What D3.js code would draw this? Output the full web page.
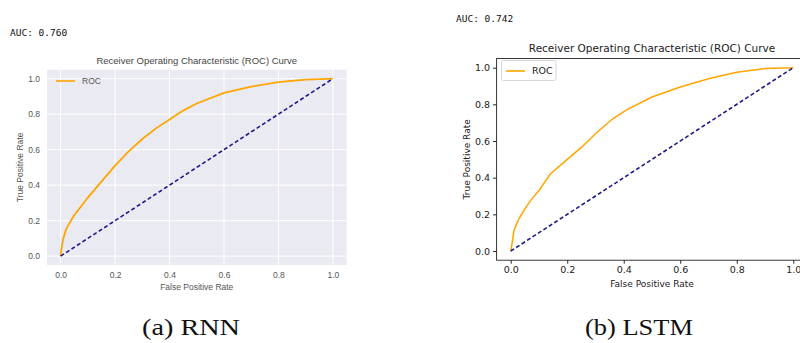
<!DOCTYPE html>
<html>
<head>
<meta charset="utf-8">
<script src="https://cdn.jsdelivr.net/npm/d3@7"></script>
<style>
  body { margin: 0; background: #fff; }
  svg { display: block; }
</style>
</head>
<body>
<svg id="chart" width="800" height="343"></svg>
<script>
// ROC curve of the RNN model
const rnnFpr = [0, 0.005, 0.01, 0.02, 0.03, 0.05, 0.075, 0.1, 0.15, 0.2, 0.25, 0.3, 0.35, 0.4, 0.45, 0.5, 0.6, 0.7, 0.8, 0.9, 1.0];
const rnnTpr = [0, 0.06, 0.1, 0.15, 0.18, 0.23, 0.28, 0.33, 0.42, 0.51, 0.59, 0.66, 0.72, 0.77, 0.82, 0.86, 0.92, 0.955, 0.98, 0.995, 1.0];

// ROC curve of the LSTM model
const lstmFpr = [0, 0.004, 0.012, 0.027, 0.05, 0.07, 0.1, 0.14, 0.2, 0.25, 0.3, 0.36, 0.41, 0.5, 0.6, 0.7, 0.8, 0.9, 1.0];
const lstmTpr = [0, 0.035, 0.115, 0.17, 0.23, 0.275, 0.33, 0.42, 0.5, 0.565, 0.64, 0.72, 0.77, 0.84, 0.895, 0.94, 0.975, 0.995, 1.0];

const diagonal = [0, 1];
const ticks = [0, 0.2, 0.4, 0.6, 0.8, 1.0];
const aucLabels = ["AUC: 0.760", "AUC: 0.742"];
const captions = ["(a) RNN", "(b) LSTM"];
const chartTitle = "Receiver Operating Characteristic (ROC) Curve";

const svg = d3.select("#chart");

const panels = [
  { fpr: rnnFpr, tpr: rnnTpr, auc: aucLabels[0], caption: captions[0],
    left: 47, right: 346.5, top: 69.8, bottom: 265, style: "seaborn",
    aucX: 10, aucY: 36, capX: 191, capY: 335, capW: 98 },
  { fpr: lstmFpr, tpr: lstmTpr, auc: aucLabels[1], caption: captions[1],
    left: 496.6, right: 807.4, top: 58.5, bottom: 260.2, style: "classic",
    aucX: 456, aucY: 22, capX: 639, capY: 335, capW: 108 }
];

panels.forEach(p => {
  const g = svg.append("g");
  const x = d3.scaleLinear().domain([-0.05, 1.05]).range([p.left, p.right]);
  const y = d3.scaleLinear().domain([-0.05, 1.05]).range([p.bottom, p.top]);
  const seaborn = p.style === "seaborn";
  const textColor = seaborn ? "#555" : "#222";
  const font = seaborn ? "Liberation Sans, Arial, sans-serif" : "DejaVu Sans, sans-serif";

  // AUC printout
  g.append("text")
    .attr("x", p.aucX).attr("y", p.aucY)
    .text(p.auc)
    .style("font-family", "DejaVu Sans Mono, monospace")
    .style("font-size", "9.5px")
    .style("fill", "#111");

  // background
  g.append("rect")
    .attr("x", p.left).attr("y", p.top)
    .attr("width", p.right - p.left).attr("height", p.bottom - p.top)
    .style("fill", seaborn ? "#eaeaf2" : "#fff");

  if (seaborn) {
    g.selectAll(".vgrid").data(ticks).enter().append("line")
      .attr("x1", d => x(d)).attr("x2", d => x(d))
      .attr("y1", p.top).attr("y2", p.bottom)
      .style("stroke", "#fff").style("stroke-width", 1);
    g.selectAll(".hgrid").data(ticks).enter().append("line")
      .attr("y1", d => y(d)).attr("y2", d => y(d))
      .attr("x1", p.left).attr("x2", p.right)
      .style("stroke", "#fff").style("stroke-width", 1);
  }

  // axes
  const xAxis = d3.axisBottom(x).tickValues(ticks).tickFormat(d3.format(".1f"))
    .tickSize(seaborn ? 0 : 3.5).tickPadding(seaborn ? 7 : 3);
  const yAxis = d3.axisLeft(y).tickValues(ticks).tickFormat(d3.format(".1f"))
    .tickSize(seaborn ? 0 : 3.5).tickPadding(seaborn ? 7 : 3);

  const gx = g.append("g").attr("transform", `translate(0,${p.bottom})`).call(xAxis);
  const gy = g.append("g").attr("transform", `translate(${p.left},0)`).call(yAxis);
  [gx, gy].forEach(a => {
    a.select(".domain").remove();
    a.selectAll("text").style("font-family", font).style("font-size", seaborn ? "8.5px" : "9.5px")
      .style("fill", textColor);
    a.selectAll("line").style("stroke", "#222");
  });

  if (!seaborn) {
    g.append("rect")
      .attr("x", p.left).attr("y", p.top)
      .attr("width", p.right - p.left).attr("height", p.bottom - p.top)
      .style("fill", "none").style("stroke", "#222").style("stroke-width", 0.9);
  }

  const line = d3.line().x(d => x(d[0])).y(d => y(d[1]));

  // ROC curve
  g.append("path")
    .datum(p.fpr.map((f, i) => [f, p.tpr[i]]))
    .attr("d", line)
    .style("fill", "none")
    .style("stroke", "#ffa500")
    .style("stroke-width", seaborn ? 1.8 : 1.5);

  // chance diagonal
  g.append("path")
    .datum(diagonal.map(d => [d, d]))
    .attr("d", line)
    .style("fill", "none")
    .style("stroke", "#1a1a8c")
    .style("stroke-width", 1.6)
    .style("stroke-dasharray", "4,2.5");

  // title
  g.append("text")
    .attr("x", seaborn ? (p.left + p.right) / 2 : 652).attr("y", p.top - (seaborn ? 6 : 7))
    .attr("text-anchor", "middle")
    .text(chartTitle)
    .style("font-family", font)
    .style("font-size", seaborn ? "9.5px" : "10.5px")
    .style("fill", seaborn ? "#444" : "#222");

  // axis labels
  g.append("text")
    .attr("x", seaborn ? (p.left + p.right) / 2 : 652).attr("y", seaborn ? 290 : 287)
    .attr("text-anchor", "middle")
    .text("False Positive Rate")
    .style("font-family", font)
    .style("font-size", seaborn ? "8.5px" : "9px")
    .style("fill", textColor);

  g.append("text")
    .attr("transform", `translate(${seaborn ? 23 : 470},${(p.top + p.bottom) / 2}) rotate(-90)`)
    .attr("text-anchor", "middle")
    .text("True Positive Rate")
    .style("font-family", font)
    .style("font-size", seaborn ? "8.5px" : "9px")
    .style("fill", textColor);

  // legend
  const ly = seaborn ? 81 : 71;
  if (!seaborn) {
    g.append("rect")
      .attr("x", 501.5).attr("y", 60.5).attr("width", 54.5).attr("height", 20)
      .attr("rx", 2)
      .style("fill", "#fff").style("stroke", "#ccc").style("stroke-width", 0.8);
  }
  g.append("line")
    .attr("x1", seaborn ? 56 : 506).attr("x2", seaborn ? 75 : 525)
    .attr("y1", ly).attr("y2", ly)
    .style("stroke", "#ffa500").style("stroke-width", 1.6);
  g.append("text")
    .attr("x", seaborn ? 82 : 532).attr("y", ly + 3.2)
    .text("ROC")
    .style("font-family", font)
    .style("font-size", seaborn ? "8.5px" : "9.5px")
    .style("fill", textColor);

  // caption
  g.append("text")
    .attr("x", p.capX - p.capW / 2).attr("y", p.capY)
    .attr("textLength", p.capW)
    .attr("lengthAdjust", "spacingAndGlyphs")
    .text(p.caption)
    .style("font-family", "Liberation Serif, serif")
    .style("font-size", "24px")
    .style("fill", "#111");
});
</script>
</body>
</html>
